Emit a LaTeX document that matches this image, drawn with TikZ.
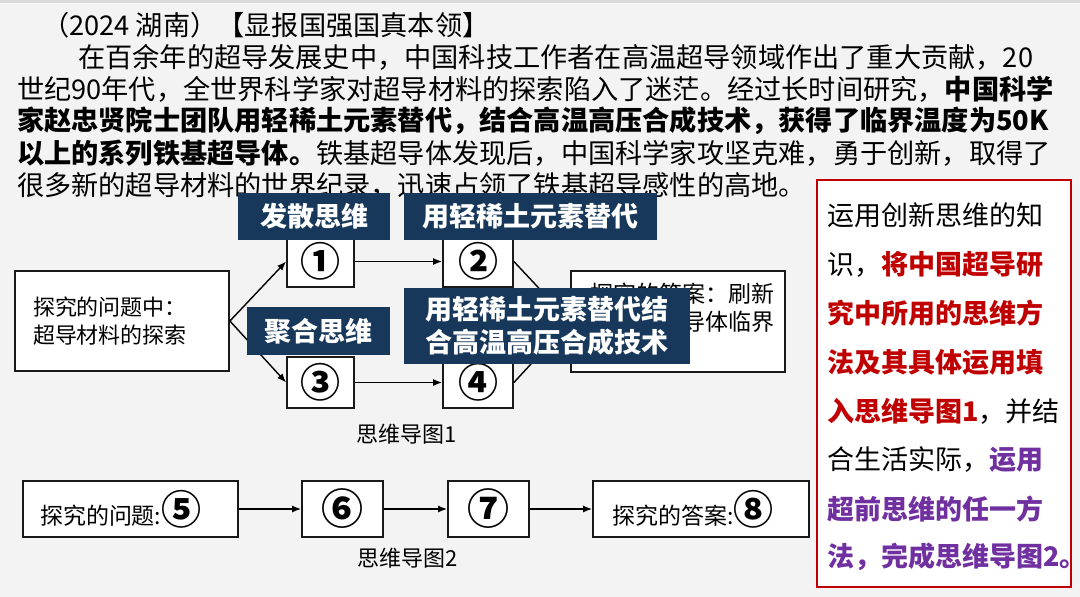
\documentclass[tikz,border=0pt]{standalone}
\usepackage{fontspec}
\setmainfont{Noto Sans CJK SC}
\usetikzlibrary{arrows.meta}
\definecolor{navy}{HTML}{17385A}
\definecolor{dred}{HTML}{C00000}
\definecolor{purp}{HTML}{7030A0}
\definecolor{bg}{HTML}{F3F3F3}
\definecolor{topbar}{HTML}{DADADA}
\newcommand{\cnum}[1]{{\fontsize{40}{40}\selectfont\bfseries #1}}
\begin{document}
\begin{tikzpicture}[x=1pt,y=-1pt,
  para/.style={anchor=west,inner sep=0pt,font=\fontsize{27.2}{30}\selectfont},
  rline/.style={anchor=west,inner sep=0pt,font=\fontsize{27}{30}\selectfont},
  box/.style={draw=black!90,line width=1.8pt,fill=white,inner sep=0pt},
  numbox/.style={box,minimum width=67pt,minimum height=51pt,font=\fontsize{40}{40}\selectfont\bfseries},
  lab/.style={fill=navy,text=white,inner sep=0pt,align=center,
    font=\fontsize{27}{33}\selectfont\bfseries},
  arr/.style={-{Latex[length=9pt,width=7pt]},line width=1.4pt},
  captext/.style={inner sep=0pt,font=\fontsize{22}{26}\selectfont}
]
\useasboundingbox (0,0) rectangle (1080,597);
\fill[bg] (0,0) rectangle (1080,597);
\fill[topbar] (0,0) rectangle (1080,3);

% paragraph
\node[para] (t1) at (42,25) {（2024 湖南）【显报国强国真本领】};
\node[para] (t2) at (78,57) {在百余年的超导发展史中，中国科技工作者在高温超导领域作出了重大贡献，20};
\node[para] (t3) at (17,89) {世纪90年代，全世界科学家对超导材料的探索陷入了迷茫。经过长时间研究，\textbf{中国科学}};
\node[para] (t4) at (17,121) {\bfseries 家赵忠贤院士团队用轻稀土元素替代，结合高温高压合成技术，获得了临界温度为50K};
\node[para] (t5) at (17,153) {\textbf{以上的系列铁基超导体。}铁基超导体发现后，中国科学家攻坚克难，勇于创新，取得了};
\node[para] (t6) at (17,185) {很多新的超导材料的世界纪录，迅速占领了铁基超导感性的高地。};

% mind map 1
\node[box,minimum width=214pt,minimum height=100pt,text width=178pt,align=left,
  font=\fontsize{22}{28}\selectfont] (q) at (122,321) {探究的问题中：\\超导材料的探索};
\node[numbox] (n1) at (320.5,261.5) {①};
\node[numbox] (n3) at (320.5,382.5) {③};
\node[numbox,minimum width=70pt] (n2) at (478,261.5) {②};
\node[numbox,minimum width=70pt] (n4) at (478,382.5) {④};
\node[box,minimum width=214pt,minimum height=101pt,text width=176pt,align=left,
  font=\fontsize{23}{28}\selectfont] (ans) at (678,321.5) {探究的答案：刷新\\了铁基超导体临界\\温度};
\draw[arr] (q.east) -- (n1.west);
\draw[arr] (q.east) -- (n3.west);
\draw[arr] (n1.east) -- (n2.west);
\draw[arr] (n3.east) -- (n4.west);
\draw[arr] (n2.east) -- (ans.west);
\draw[arr] (n4.east) -- (ans.west);
\node[captext] (c1) at (407,434) {思维导图1};

% labels
\node[lab,minimum width=152pt,minimum height=47pt] (l1) at (314,216.5) {发散思维};
\node[lab,minimum width=143pt,minimum height=48pt] (l2) at (318.5,331) {聚合思维};
\node[lab,minimum width=253pt,minimum height=47pt] (l3) at (530.5,216.5) {用轻稀土元素替代};
\node[lab,minimum width=286pt,minimum height=76pt] (l4) at (547,326) {用轻稀土元素替代结\\合高温高压合成技术};

% mind map 2
\node[box,minimum width=215pt,minimum height=56pt,text width=181pt,align=left,
  font=\fontsize{23}{28}\selectfont] (b5) at (130.5,509) {探究的问题:\cnum{⑤}};
\node[box,minimum width=81pt,minimum height=56pt,font=\fontsize{42}{42}\selectfont\bfseries] (b6) at (342.5,509) {⑥};
\node[box,minimum width=81pt,minimum height=56pt,font=\fontsize{42}{42}\selectfont\bfseries] (b7) at (488.5,509) {⑦};
\node[box,minimum width=216pt,minimum height=56pt,text width=178pt,align=left,
  font=\fontsize{23}{28}\selectfont] (b8) at (701,509) {探究的答案:\cnum{⑧}};
\draw[arr] (b5.east) -- (b6.west);
\draw[arr] (b6.east) -- (b7.west);
\draw[arr] (b7.east) -- (b8.west);
\node[captext] (c2) at (408,558) {思维导图2};

% red box
\node[draw=dred,line width=1.8pt,fill=white,minimum width=254pt,minimum height=407pt,inner sep=0pt] (rb) at (944,383.5) {};
\node[rline] (r1) at (827,215) {运用创新思维的知};
\node[rline] (r2) at (827,264) {识，\textcolor{dred}{\bfseries 将中国超导研}};
\node[rline] (r3) at (827,313) {\color{dred}\bfseries 究中所用的思维方};
\node[rline] (r4) at (827,362) {\color{dred}\bfseries 法及其具体运用填};
\node[rline] (r5) at (827,411) {\textcolor{dred}{\bfseries 入思维导图1}，并结};
\node[rline] (r6) at (827,460) {合生活实际，\textcolor{purp}{\bfseries 运用}};
\node[rline] (r7) at (827,509) {\color{purp}\bfseries 超前思维的任一方};
\node[rline] (r8) at (827,557) {\color{purp}\bfseries 法，完成思维导图2。};
\end{tikzpicture}
\end{document}
